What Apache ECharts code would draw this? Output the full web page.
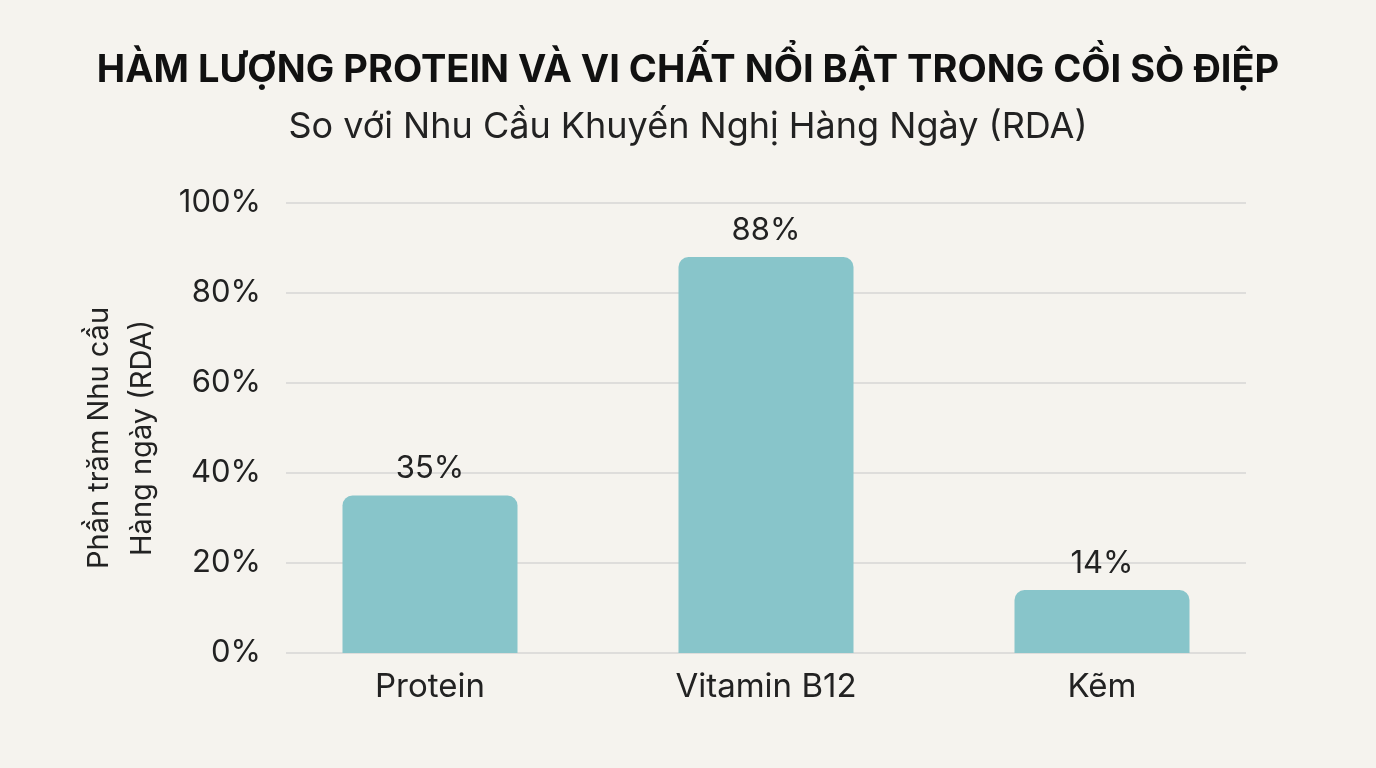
<!DOCTYPE html>
<html>
<head>
<meta charset="utf-8">
<script src="https://cdn.jsdelivr.net/npm/echarts@6/dist/echarts.min.js"></script>
<style>
html,body{margin:0;padding:0;background:#f5f3ee;}
#c{width:1376px;height:768px;}
</style>
</head>
<body>
<div id="c"></div>
<script>
const categories = ['Protein', 'Vitamin B12', 'Kẽm'];
const values = [35, 88, 14];
const yTicks = [0, 20, 40, 60, 80, 100];

const FONT = 'Inter, "Noto Sans", sans-serif';
const chart = echarts.init(document.getElementById('c'));
chart.setOption({
  backgroundColor: '#f5f3ee',
  textStyle: { fontFamily: FONT },
  title: [
    { text: 'HÀM LƯỢNG PROTEIN VÀ VI CHẤT NỔI BẬT TRONG CỒI SÒ ĐIỆP', left: 'center', top: 47,
      textStyle: { fontFamily: FONT, fontWeight: 'bold', fontSize: 38, color: '#111' } },
    { text: 'So với Nhu Cầu Khuyến Nghị Hàng Ngày (RDA)', left: 'center', top: 104,
      textStyle: { fontFamily: FONT, fontWeight: 'normal', fontSize: 36, color: '#222' } }
  ],
  grid: [
    { left: 286, right: 130, top: 203, bottom: 115 },
    { left: 262, right: 106, top: 203, bottom: 115 }
  ],
  xAxis: [
    { gridIndex: 0, type: 'category', data: categories, show: false },
    { gridIndex: 1, type: 'category', data: categories,
      axisLine: { show: false }, axisTick: { show: false },
      axisLabel: { fontFamily: FONT, fontSize: 33, color: '#222', margin: 18 } }
  ],
  yAxis: [
    { gridIndex: 0, type: 'value', min: yTicks[0], max: yTicks[yTicks.length - 1], interval: 20,
      axisLine: { show: false }, axisTick: { show: false },
      splitLine: { lineStyle: { color: '#d6d6d4', width: 1.5 } },
      axisLabel: { formatter: '{value}%', fontFamily: FONT, fontSize: 31, color: '#222', margin: 25 },
      name: 'Phần trăm Nhu cầu\nHàng ngày (RDA)', nameLocation: 'middle', nameGap: 122, nameRotate: 90,
      nameTextStyle: { fontFamily: FONT, fontSize: 29, color: '#222', lineHeight: 43, padding: [0, 20, 0, 0] } },
    { gridIndex: 1, type: 'value', min: 0, max: 100, show: false }
  ],
  series: [{
    type: 'bar', xAxisIndex: 1, yAxisIndex: 1, data: values, barWidth: 175,
    itemStyle: { color: '#88c5ca', borderRadius: [10, 10, 0, 0] },
    label: { show: true, position: 'top', formatter: '{c}%', fontFamily: FONT, fontSize: 31, color: '#222', distance: 11 }
  }]
});
</script>
</body>
</html>
